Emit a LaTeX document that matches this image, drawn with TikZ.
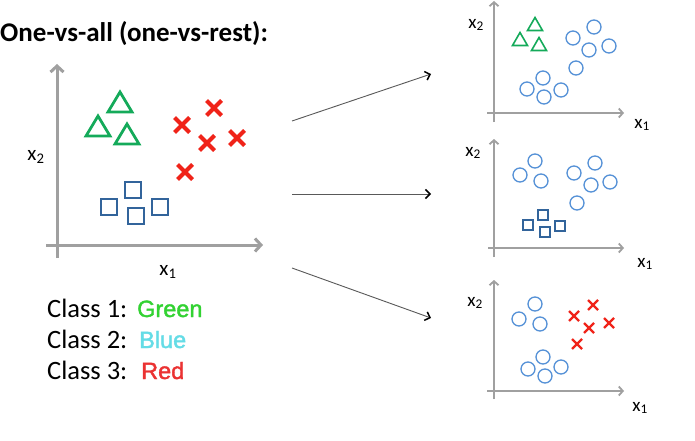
\documentclass[tikz,border=0pt]{standalone}
\usepackage{fontspec}
\setmainfont{Carlito}
\newfontfamily\colfont[FakeBold=1.6]{Liberation Sans}
\usetikzlibrary{arrows.meta}
\definecolor{axgray}{RGB}{160,160,160}
\definecolor{trigreen}{RGB}{20,170,90}
\definecolor{crossred}{RGB}{240,35,25}
\definecolor{sqblue}{RGB}{50,100,155}
\definecolor{circblue}{RGB}{85,145,215}
\definecolor{lblgreen}{RGB}{50,210,50}
\definecolor{lblblue}{RGB}{100,220,230}
\definecolor{lblred}{RGB}{235,50,50}
\tikzset{
  bigaxis/.style={draw=axgray,line width=3pt,-{Straight Barb[length=6pt,width=13pt]}},
  smallaxis/.style={draw=axgray,line width=1.8pt,-{Straight Barb[length=4pt,width=9pt]}},
  flow/.style={draw=black!65,line width=0.9pt,-{Straight Barb[length=4.5pt,width=9pt,line width=1.5pt,black]}},
  axlbl/.style={inner sep=0pt,font=\fontsize{19}{22}\selectfont},
  clslbl/.style={anchor=base west,inner sep=0pt,font=\fontsize{26.5}{30}\selectfont},
  collbl/.style={anchor=base west,inner sep=0pt,font=\colfont\fontsize{23.5}{28}\selectfont},
  pics/bigtri/.style={code={\draw[trigreen,line width=2.8pt,line join=miter] (-12,10) -- (0,-10) -- (12,10) -- cycle;}},
  pics/smalltri/.style={code={\draw[trigreen,line width=1.6pt] (-7.5,6.5) -- (0,-6.5) -- (7.5,6.5) -- cycle;}},
  pics/bigx/.style={code={\draw[crossred,line width=4pt] (-7.5,-7.5) -- (7.5,7.5) (-7.5,7.5) -- (7.5,-7.5);}},
  pics/smallx/.style={code={\draw[crossred,line width=2.4pt] (-5,-5) -- (5,5) (-5,5) -- (5,-5);}},
  pics/bigsq/.style={code={\draw[sqblue,line width=2.6pt] (-8,-8) rectangle (8,8);}},
  pics/smallsq/.style={code={\draw[sqblue,line width=1.5pt] (-5,-5) rectangle (5,5);}},
  pics/circ/.style={code={\draw[circblue,line width=1.3pt] (0,0) circle[radius=7];}},
}
\begin{document}
\begin{tikzpicture}[x=1pt,y=-1pt]
\useasboundingbox[fill=white] (0,0) rectangle (695,441);
% title
\node[anchor=base west,inner sep=0pt,font=\bfseries\fontsize{27}{32}\selectfont] (title) at (0,42) {One-vs-all (one-vs-rest):};
% main plot axes
\coordinate (yb) at (57,258); \coordinate (yt) at (57,64);
\coordinate (xl) at (46,245); \coordinate (xr) at (263,245);
\draw[bigaxis] (yb) -- (yt);
\draw[bigaxis] (xl) -- (xr);
\node[axlbl,font=\fontsize{21}{24}\selectfont] (mx2) at (36,157) {x\textsubscript{2}};
\node[axlbl,font=\fontsize{21}{24}\selectfont] (mx1) at (168,272) {x\textsubscript{1}};
% main markers
\pic at (120,102) {bigtri};
\pic at (98,126) {bigtri};
\pic at (127,134) {bigtri};
\pic at (182,125) {bigx};
\pic at (214,108) {bigx};
\pic at (207,143) {bigx};
\pic at (237,138) {bigx};
\pic at (185,172) {bigx};
\pic at (109,207) {bigsq};
\pic at (133,190) {bigsq};
\pic at (136,216) {bigsq};
\pic at (160,207) {bigsq};
% class labels
\node[clslbl] (c1) at (47,317) {Class 1:};
\node[clslbl] (c2) at (47,348) {Class 2:};
\node[clslbl] (c3) at (47,379) {Class 3:};
\node[collbl,text=lblgreen] (g) at (137,317) {Green};
\node[collbl,text=lblblue] (b) at (139,348) {Blue};
\node[collbl,text=lblred] (r) at (141,379) {Red};
% flow arrows
\coordinate (s1) at (292,121); \coordinate (e1) at (431,74);
\coordinate (s2) at (292,194); \coordinate (e2) at (431,194);
\coordinate (s3) at (292,268); \coordinate (e3) at (431,318);
\draw[flow] (s1) -- (e1);
\draw[flow] (s2) -- (e2);
\draw[flow] (s3) -- (e3);
% plot 1
\coordinate (p1yb) at (494,122); \coordinate (p1yt) at (494,1);
\coordinate (p1xl) at (487,113); \coordinate (p1xr) at (624,113);
\draw[smallaxis] (p1yb) -- (p1yt);
\draw[smallaxis] (p1xl) -- (p1xr);
\node[axlbl] (p1x2) at (476,25) {x\textsubscript{2}};
\node[axlbl] (p1x1) at (642,125) {x\textsubscript{1}};
\pic at (535,24) {smalltri};
\pic at (520,39) {smalltri};
\pic at (539,44) {smalltri};
\foreach \p in {(573,38),(594,27),(589,50),(609,46),(576,68),(543,78),(527,89),(544,97),(561,90)} \pic at \p {circ};
% plot 2
\coordinate (p2yb) at (494,257); \coordinate (p2yt) at (494,139);
\coordinate (p2xl) at (488,248); \coordinate (p2xr) at (624,248);
\draw[smallaxis] (p2yb) -- (p2yt);
\draw[smallaxis] (p2xl) -- (p2xr);
\node[axlbl] (p2x2) at (473,153) {x\textsubscript{2}};
\node[axlbl] (p2x1) at (645,264) {x\textsubscript{1}};
\foreach \p in {(520,175),(535,161),(541,181),(574,173),(595,163),(591,185),(610,182),(577,203)} \pic at \p {circ};
\pic at (528,225) {smallsq};
\pic at (543,215) {smallsq};
\pic at (545,232) {smallsq};
\pic at (560,226) {smallsq};
% plot 3
\coordinate (p3yb) at (494,399); \coordinate (p3yt) at (494,280);
\coordinate (p3xl) at (487,391); \coordinate (p3xr) at (624,391);
\draw[smallaxis] (p3yb) -- (p3yt);
\draw[smallaxis] (p3xl) -- (p3xr);
\node[axlbl] (p3x2) at (475,303) {x\textsubscript{2}};
\node[axlbl] (p3x1) at (640,408) {x\textsubscript{1}};
\foreach \p in {(519,319),(535,304),(540,324),(543,357),(528,369),(545,376),(561,367)} \pic at \p {circ};
\pic at (574,316) {smallx};
\pic at (593,305) {smallx};
\pic at (589,328) {smallx};
\pic at (609,323) {smallx};
\pic at (577,344) {smallx};
\end{tikzpicture}
\end{document}
